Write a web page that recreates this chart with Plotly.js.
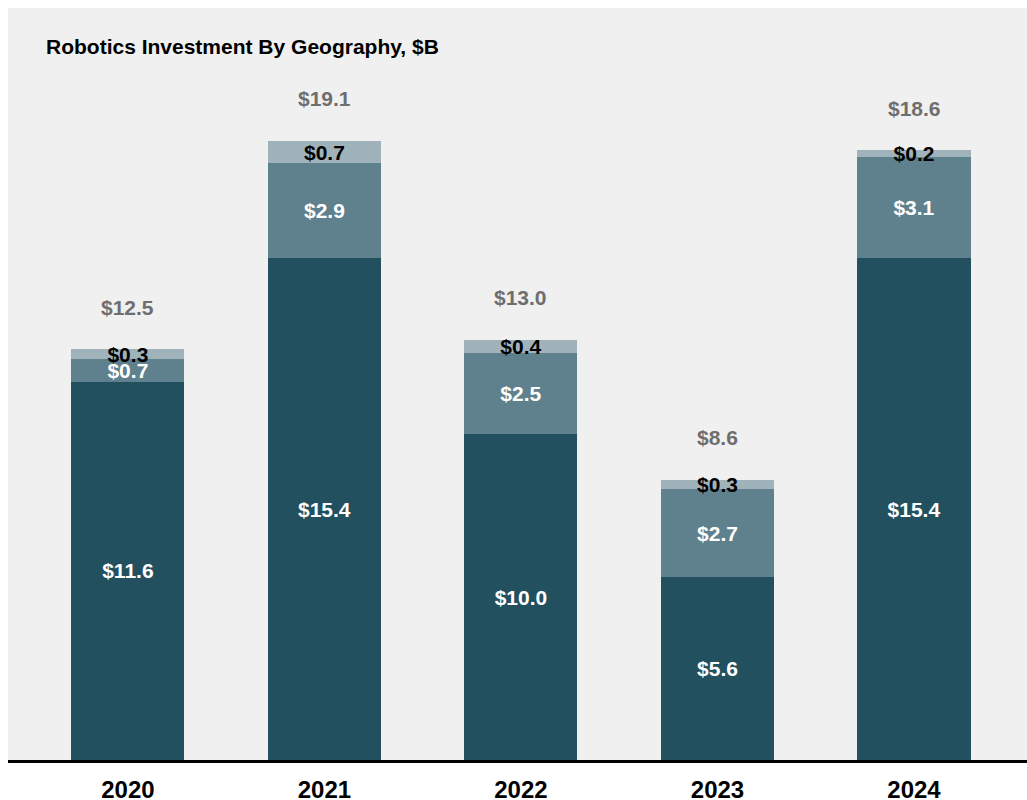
<!DOCTYPE html>
<html>
<head>
<meta charset="utf-8">
<script src="https://cdn.plot.ly/plotly-3.0.1.min.js"></script>
<style>html,body{margin:0;padding:0;background:#fff;}#chart{width:1027px;height:800px;}</style>
</head>
<body>
<div id="chart"></div>
<script>
const years = ['2020', '2021', '2022', '2023', '2024'];
const segDark = [11.6, 15.4, 10.0, 5.6, 15.4];
const segMid = [0.7, 2.9, 2.5, 2.7, 3.1];
const segLight = [0.3, 0.7, 0.4, 0.3, 0.2];
const totals = [12.5, 19.1, 13.0, 8.6, 18.6];

const fmt = v => '$' + v.toFixed(1);
const FONT = 'Liberation Sans, Arial, Helvetica, sans-serif';

function barTrace(vals, color, textColor, name) {
  return {
    type: 'bar', x: years, y: vals, name: name,
    marker: {color: color, line: {width: 0}},
    text: vals.map(fmt), textposition: 'inside', insidetextanchor: 'middle',
    constraintext: 'none', cliponaxis: false,
    textfont: {family: FONT, size: 21, color: textColor, weight: 'bold'},
    hoverinfo: 'x+y'
  };
}

const data = [
  barTrace(segDark, '#23505f', '#ffffff', 'Segment 1'),
  barTrace(segMid, '#5f808d', '#ffffff', 'Segment 2'),
  barTrace(segLight, '#a0b3bb', '#000000', 'Segment 3')
];

const annotations = years.map((yr, i) => ({
  x: i, y: segDark[i] + segMid[i] + segLight[i], xref: 'x', yref: 'y',
  text: fmt(totals[i]), showarrow: false, yanchor: 'middle', yshift: 42,
  font: {family: FONT, size: 21, color: '#6e6e6e', weight: 'bold'}
}));

const layout = {
  width: 1027, height: 800,
  margin: {l: 8, r: 0, t: 8, b: 40},
  paper_bgcolor: '#ffffff', plot_bgcolor: '#f0f0f0',
  barmode: 'stack', bargap: 0.425, showlegend: false,
  title: {text: 'Robotics Investment By Geography, $B', x: 46/1027, xref: 'container', xanchor: 'left',
          y: 1 - 47/800, yref: 'container', yanchor: 'middle',
          font: {family: FONT, size: 21, color: '#000000', weight: 'bold'}},
  xaxis: {type: 'category', range: [-0.61, 4.575], showline: true, linecolor: '#000000', linewidth: 3,
          ticks: 'outside', ticklen: 6, tickcolor: 'rgba(0,0,0,0)', showgrid: false, zeroline: false,
          automargin: false, fixedrange: true,
          tickfont: {family: FONT, size: 24, color: '#000000', weight: 'bold'}},
  yaxis: {range: [0, 23.07], showticklabels: false, showgrid: false, zeroline: false, showline: false,
          ticks: '', automargin: false, fixedrange: true},
  annotations: annotations
};

Plotly.newPlot('chart', data, layout, {displayModeBar: false, staticPlot: true});
</script>
</body>
</html>
